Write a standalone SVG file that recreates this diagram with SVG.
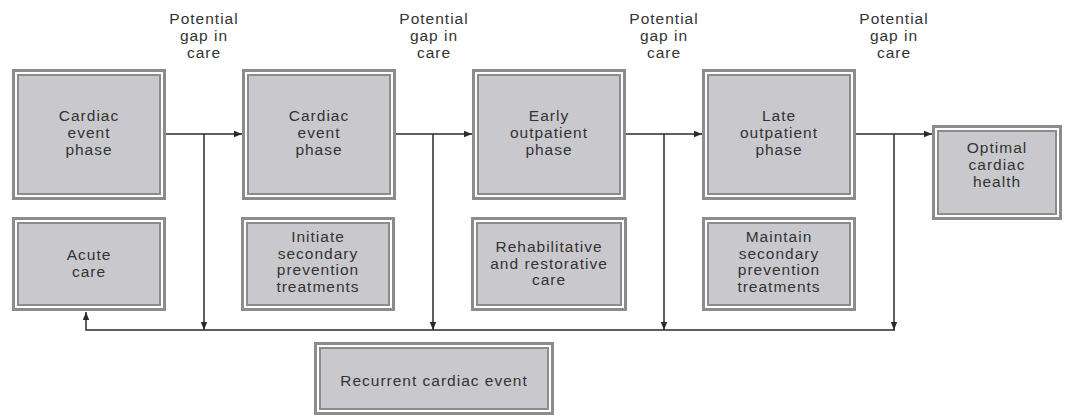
<svg xmlns="http://www.w3.org/2000/svg" width="1075" height="416" viewBox="0 0 1075 416">
<defs>
<style>
.o{fill:#ffffff;stroke:#8c8c8c;stroke-width:3}
.i{fill:#c9c9cd;stroke:#8c8c8c;stroke-width:2}
.t{font-family:"Liberation Sans",Arial,sans-serif;font-size:15.5px;letter-spacing:1px;fill:#333333;text-anchor:middle}
.c{fill:none;stroke:#2a2a2a;stroke-width:1.5}
</style>
<marker id="ah" viewBox="0 0 10 10" refX="10" refY="5" markerWidth="8" markerHeight="8" markerUnits="userSpaceOnUse" orient="auto">
<path d="M0,1 L10,5 L0,9 z" fill="#2a2a2a"/>
</marker>
</defs>
<rect width="1075" height="416" fill="#ffffff"/>

<g id="gap-labels">
<text class="t" x="204" y="24">Potential</text><text class="t" x="204" y="41">gap in</text><text class="t" x="204" y="58">care</text>
<text class="t" x="434" y="24">Potential</text><text class="t" x="434" y="41">gap in</text><text class="t" x="434" y="58">care</text>
<text class="t" x="664" y="24">Potential</text><text class="t" x="664" y="41">gap in</text><text class="t" x="664" y="58">care</text>
<text class="t" x="894" y="24">Potential</text><text class="t" x="894" y="41">gap in</text><text class="t" x="894" y="58">care</text>
</g>

<g id="cardiac-event-1">
<rect class="o" x="13.5" y="70.5" width="151" height="128"/>
<rect class="i" x="18" y="75" width="142" height="119"/>
<text class="t" x="89" y="121">Cardiac</text><text class="t" x="89" y="138">event</text><text class="t" x="89" y="155">phase</text>
</g>
<g id="cardiac-event-2">
<rect class="o" x="243.5" y="70.5" width="151" height="128"/>
<rect class="i" x="248" y="75" width="142" height="119"/>
<text class="t" x="319" y="121">Cardiac</text><text class="t" x="319" y="138">event</text><text class="t" x="319" y="155">phase</text>
</g>
<g id="early-outpatient">
<rect class="o" x="473.5" y="70.5" width="151" height="128"/>
<rect class="i" x="478" y="75" width="142" height="119"/>
<text class="t" x="549" y="121">Early</text><text class="t" x="549" y="138">outpatient</text><text class="t" x="549" y="155">phase</text>
</g>
<g id="late-outpatient">
<rect class="o" x="703.5" y="70.5" width="151" height="128"/>
<rect class="i" x="708" y="75" width="142" height="119"/>
<text class="t" x="779" y="121">Late</text><text class="t" x="779" y="138">outpatient</text><text class="t" x="779" y="155">phase</text>
</g>
<g id="optimal-health">
<rect class="o" x="933.5" y="126.5" width="127" height="92"/>
<rect class="i" x="938" y="131" width="118" height="83"/>
<text class="t" x="997" y="153">Optimal</text><text class="t" x="997" y="170">cardiac</text><text class="t" x="997" y="187">health</text>
</g>

<g id="acute-care">
<rect class="o" x="13.5" y="218.5" width="151" height="91"/>
<rect class="i" x="18" y="223" width="142" height="82"/>
<text class="t" x="89" y="260">Acute</text><text class="t" x="89" y="277">care</text>
</g>
<g id="initiate-secondary">
<rect class="o" x="242.5" y="218.5" width="151" height="91"/>
<rect class="i" x="247" y="223" width="142" height="82"/>
<text class="t" x="318" y="242">Initiate</text><text class="t" x="318" y="258.5">secondary</text><text class="t" x="318" y="275">prevention</text><text class="t" x="318" y="291.5">treatments</text>
</g>
<g id="rehabilitative">
<rect class="o" x="472.5" y="218.5" width="153" height="91"/>
<rect class="i" x="477" y="223" width="144" height="82"/>
<text class="t" x="549" y="252">Rehabilitative</text><text class="t" x="549" y="268.5">and restorative</text><text class="t" x="549" y="285">care</text>
</g>
<g id="maintain-secondary">
<rect class="o" x="703.5" y="218.5" width="151" height="91"/>
<rect class="i" x="708" y="223" width="142" height="82"/>
<text class="t" x="779" y="242">Maintain</text><text class="t" x="779" y="258.5">secondary</text><text class="t" x="779" y="275">prevention</text><text class="t" x="779" y="291.5">treatments</text>
</g>
<g id="recurrent-event">
<rect class="o" x="315.5" y="343.5" width="237" height="70"/>
<rect class="i" x="320" y="348" width="228" height="61"/>
<text class="t" x="434" y="386">Recurrent cardiac event</text>
</g>

<g id="connectors">
<line class="c" x1="166" y1="134" x2="242" y2="134" marker-end="url(#ah)"/>
<line class="c" x1="396" y1="134" x2="472" y2="134" marker-end="url(#ah)"/>
<line class="c" x1="626" y1="134" x2="702" y2="134" marker-end="url(#ah)"/>
<line class="c" x1="856" y1="134" x2="932" y2="134" marker-end="url(#ah)"/>
<line class="c" x1="204" y1="134" x2="204" y2="330" marker-end="url(#ah)"/>
<line class="c" x1="433" y1="134" x2="433" y2="330" marker-end="url(#ah)"/>
<line class="c" x1="664" y1="134" x2="664" y2="330" marker-end="url(#ah)"/>
<line class="c" x1="894" y1="134" x2="894" y2="330" marker-end="url(#ah)"/>
<polyline class="c" points="895,330 86,330 86,312" marker-end="url(#ah)"/>
</g>
</svg>
